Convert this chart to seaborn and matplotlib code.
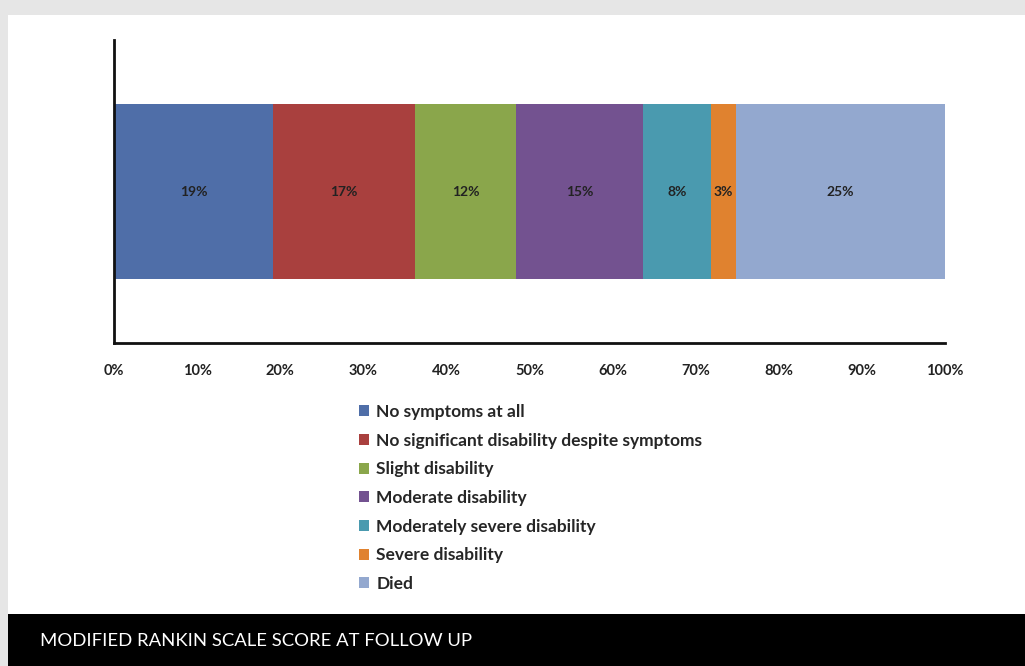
import matplotlib
matplotlib.use("Agg")
import matplotlib.pyplot as plt
import seaborn as sns
import pandas as pd
from matplotlib.patches import Patch, Rectangle

# === Data ===
categories = [
    "No symptoms at all",
    "No significant disability despite symptoms",
    "Slight disability",
    "Moderate disability",
    "Moderately severe disability",
    "Severe disability",
    "Died",
]
shares = [19.1, 17.1, 12.2, 15.3, 8.1, 3.0, 25.2]
colors = ["#4F6EA8", "#A9403E", "#8AA64B", "#735290", "#4A9AAF", "#E0822F", "#93A8CF"]
tick_values = list(range(0, 101, 10))
tick_labels = [f"{v}%" for v in tick_values]
caption = "MODIFIED RANKIN SCALE SCORE AT FOLLOW UP"

df = pd.DataFrame({"cat": categories, "share": shares, "color": colors})
df["left"] = df["share"].cumsum() - df["share"]
df["right"] = df["share"].cumsum()

sns.set_theme(style="white")
plt.rcParams["font.family"] = ["Lato", "DejaVu Sans"]

fig = plt.figure(figsize=(10.25, 6.66), dpi=100)
fig.patch.set_facecolor("#e6e6e6")
# white card and black caption band
fig.add_artist(Rectangle((8 / 1025, 0), 1, 1 - 15 / 666, transform=fig.transFigure,
                         facecolor="white", edgecolor="none", zorder=0))
fig.add_artist(Rectangle((8 / 1025, 0), 1, 52 / 666, transform=fig.transFigure,
                         facecolor="black", edgecolor="none", zorder=1))
fig.text(40 / 1025, 25 / 666, caption, color="white", fontsize=13.3,
         va="center", ha="left", fontweight="normal")

ax = fig.add_axes([114 / 1025, 1 - 343 / 666, 831 / 1025, 303 / 666])
ax.set_facecolor("none")

# stacked bar: draw cumulative totals from the last segment back to the first
for _, row in df[::-1].iterrows():
    sns.barplot(x=[row["right"]], y=[""], orient="h", color=row["color"],
                saturation=1, width=0.8, ax=ax, edgecolor="none")

for _, row in df.iterrows():
    ax.text(row["left"] + row["share"] / 2, 0, f"{row['share']:.0f}%",
            ha="center", va="center", fontsize=10, fontweight="bold", color="#222222")

ax.set_xlim(0, 100)
ax.set_ylim(0.69, -0.69)
ax.set_xticks(tick_values)
ax.set_xticklabels(tick_labels, fontsize=10.5, fontweight="bold", color="#222222")
ax.set_yticks([])
ax.set_xlabel("")
ax.set_ylabel("")
for s in ["top", "right"]:
    ax.spines[s].set_visible(False)
for s in ["left", "bottom"]:
    ax.spines[s].set_color("#111111")
    ax.spines[s].set_linewidth(2)
ax.tick_params(axis="x", direction="out", length=6, width=1.5, color="#111111", pad=9)

handles = [Patch(facecolor=c, edgecolor="none") for c in colors]
fig.legend(handles, categories, loc="upper left",
           bbox_to_anchor=(352 / 1025, 1 - 397 / 666), frameon=False,
           prop={"size": 12.5, "weight": "bold"}, handlelength=0.6, handleheight=0.6,
           handletextpad=0.4, labelspacing=0.73, borderaxespad=0)

fig.savefig("out.png", dpi=100, facecolor=fig.get_facecolor())
